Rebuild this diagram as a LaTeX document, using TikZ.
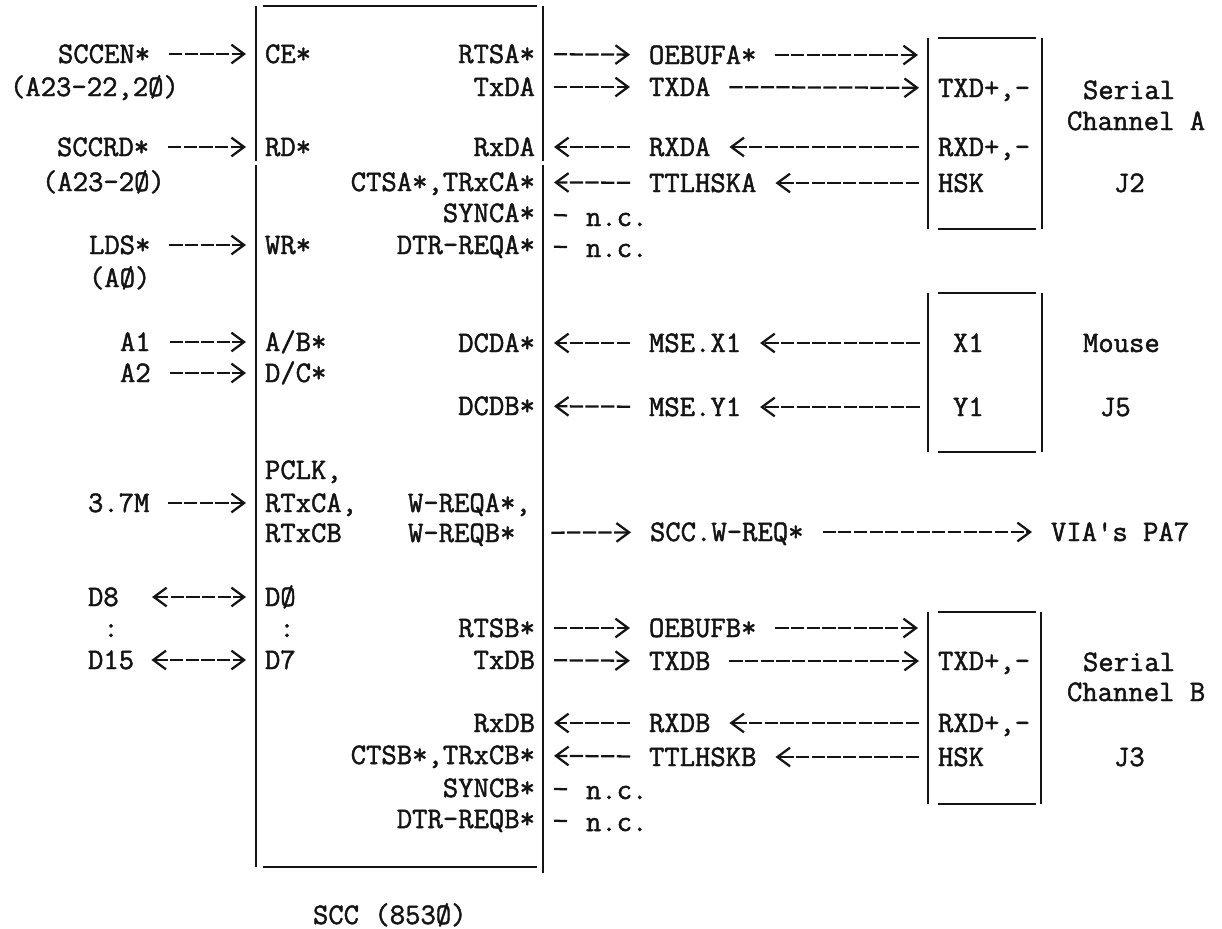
\documentclass[tikz,border=0pt]{standalone}
\usepackage{fontspec}
\usetikzlibrary{arrows.meta}
\newfontfamily\tw{Latin Modern Mono}[FakeBold=1.6]
\definecolor{ink}{HTML}{141414}
\tikzset{
  lab/.style={inner sep=0pt,outer sep=0pt,text height=13.5pt,text depth=0pt,text=ink,font=\tw\fontsize{22.36pt}{24pt}\selectfont},
  conn/.style={draw=ink,line width=1.7pt,shorten <=14.25pt,shorten >=14.25pt},
  barb/.tip={Straight Barb[length=9.5pt,width=14pt,line width=1.7pt]},
  typed/.style={conn,dash pattern=on 9.9pt off 1.85pt,-barb},
  both/.style={conn,dash pattern=on 9.9pt off 1.85pt,barb-barb},
  wall/.style={draw=ink,line width=1.8pt}
}
\newcommand\Lb[4]{\node[lab,anchor=west] (#1) at (#2,#3) {#4};}
\newcommand\Rb[4]{\node[lab,anchor=east] (#1) at (#2,#3) {#4};}
\newcommand\Cb[4]{\node[lab,anchor=center] (#1) at (#2,#3) {#4};}
\begin{document}
\begin{tikzpicture}[x=0.75pt,y=-0.75pt]
\useasboundingbox[fill=white] (0,0) rectangle (1222,929);
% main box walls
\draw[wall] (256,6) -- (256,161) (256,165) -- (256,867);
\draw[wall] (543,6) -- (543,161) (543,165) -- (543,873);
\draw[wall] (263,6) -- (537,6);
\draw[wall] (263,867) -- (537,867);
% connector boxes
\draw[wall] (928,38) -- (928,229) (1042,38) -- (1042,229) (938,38) -- (1036,38) (938,229) -- (1036,229);
\draw[wall] (928,293) -- (928,452) (1042,293) -- (1042,452) (938,293) -- (1036,293) (938,452) -- (1036,452);
\draw[wall] (928,612) -- (928,804) (1041,612) -- (1041,804) (938,612) -- (1036,612) (938,804) -- (1036,804);
% left signals
\Lb{sccen}{58}{54}{SCCEN*}
\Lb{aA}{10}{87}{(A23-22,2Ø)}
\Lb{sccrd}{57}{147}{SCCRD*}
\Lb{aB}{42}{182}{(A23-2Ø)}
\Lb{lds}{89}{245}{LDS*}
\Lb{aC}{89}{278}{(AØ)}
\Lb{aone}{120}{342}{A1}
\Lb{atwo}{120}{373}{A2}
\Lb{clk}{88}{503}{3.7M}
\Lb{deight}{88}{597}{D8}
\Cb{dotsl}{111}{628}{:}
\Lb{dfif}{88}{660}{D15}
% chip pins, left
\Lb{ce}{265}{54}{CE*}
\Lb{rd}{265}{147}{RD*}
\Lb{wr}{265}{245}{WR*}
\Lb{ab}{265}{342}{A/B*}
\Lb{dc}{265}{373}{D/C*}
\Lb{pclk}{265}{470}{PCLK,}
\Lb{rtxca}{265}{503}{RTxCA,}
\Lb{rtxcb}{265}{533}{RTxCB}
\Lb{dzero}{265}{597}{DØ}
\Cb{dotsm}{287}{628}{:}
\Lb{dseven}{265}{660}{D7}
% chip pins, right
\Rb{rtsa}{535}{54}{RTSA*}
\Rb{txda}{535}{87}{TxDA}
\Rb{rxda}{535}{147}{RxDA}
\Rb{ctsa}{535}{182}{CTSA*,TRxCA*}
\Rb{synca}{535}{213}{SYNCA*}
\Rb{dtra}{535}{245}{DTR-REQA*}
\Rb{dcda}{535}{343}{DCDA*}
\Rb{dcdb}{535}{406}{DCDB*}
\Lb{wreqa}{408}{503}{W-REQA*,}
\Lb{wreqb}{408}{533}{W-REQB*}
\Rb{rtsb}{535}{628}{RTSB*}
\Rb{txdb}{535}{660}{TxDB}
\Rb{rxdb}{535}{723}{RxDB}
\Rb{ctsb}{535}{755}{CTSB*,TRxCB*}
\Rb{syncb}{535}{788}{SYNCB*}
\Rb{dtrb}{535}{819}{DTR-REQB*}
% middle signals
\Lb{oeba}{649}{55}{OEBUFA*}
\Lb{txdaa}{649}{87}{TXDA}
\Lb{rxdaa}{649}{147}{RXDA}
\Lb{ttla}{649}{183}{TTLHSKA}
\Lb{ncA}{586}{217}{n.c.}
\Lb{ncB}{586}{248}{n.c.}
\Lb{msex}{649}{343}{MSE.X1}
\Lb{msey}{649}{407}{MSE.Y1}
\Lb{sccw}{650}{532}{SCC.W-REQ*}
\Lb{oebb}{649}{628}{OEBUFB*}
\Lb{txdbb}{649}{661}{TXDB}
\Lb{rxdbb}{649}{723}{RXDB}
\Lb{ttlb}{649}{757}{TTLHSKB}
\Lb{ncC}{586}{790}{n.c.}
\Lb{ncD}{586}{822}{n.c.}
% connector pins
\coordinate (pinoa) at (928,55);
\coordinate (pinob) at (928,628);
\Lb{txpa}{938}{88}{TXD+,-}
\Lb{rxpa}{938}{147}{RXD+,-}
\Lb{hska}{938}{183}{HSK}
\Lb{xone}{953}{343}{X1}
\Lb{yone}{953}{407}{Y1}
\Lb{txpb}{938}{661}{TXD+,-}
\Lb{rxpb}{938}{723}{RXD+,-}
\Lb{hskb}{938}{757}{HSK}
% far right
\Lb{sera}{1083}{90}{Serial}
\Lb{cha}{1067}{121}{Channel A}
\Lb{jtwo}{1114}{183}{J2}
\Lb{mouse}{1083}{343}{Mouse}
\Lb{jfive}{1100}{407}{J5}
\Lb{via}{1051}{532}{VIA's PA7}
\Lb{serb}{1083}{662}{Serial}
\Lb{chb}{1067}{692}{Channel B}
\Lb{jthree}{1114}{757}{J3}
\Lb{scc}{313}{915}{SCC (853Ø)}
% connectors, left
\draw[typed] (sccen) -- (ce);
\draw[typed] (sccrd) -- (rd);
\draw[typed] (lds) -- (wr);
\draw[typed] (aone) -- (ab);
\draw[typed] (atwo) -- (dc);
\draw[typed] (clk) -- (rtxca);
\draw[both,shorten <=25pt] (deight) -- (dzero);
\draw[both,shorten <=13pt] (dfif) -- (dseven);
% connectors, block A
\draw[typed] (rtsa) -- (oeba);
\draw[typed,shorten >=7.5pt] (oeba) -- (pinoa);
\draw[typed] (txda) -- (txdaa);
\draw[typed] (txdaa) -- (txpa);
\draw[typed] (rxpa) -- (rxdaa);
\draw[typed] (rxdaa) -- (rxda);
\draw[typed] (hska) -- (ttla);
\draw[typed] (ttla) -- (ctsa);
\draw[conn] (synca) -- (ncA);
\draw[conn] (dtra) -- (ncB);
% connectors, mouse
\draw[typed,shorten <=25pt] (xone) -- (msex);
\draw[typed] (msex) -- (dcda);
\draw[typed,shorten <=25pt] (yone) -- (msey);
\draw[typed] (msey) -- (dcdb);
% connector, W-REQ
\draw[typed,shorten <=27pt] (wreqb) -- (sccw);
\draw[typed] (sccw) -- (via);
% connectors, block B
\draw[typed] (rtsb) -- (oebb);
\draw[typed,shorten >=7.5pt] (oebb) -- (pinob);
\draw[typed] (txdb) -- (txdbb);
\draw[typed] (txdbb) -- (txpb);
\draw[typed] (rxpb) -- (rxdbb);
\draw[typed] (rxdbb) -- (rxdb);
\draw[typed] (hskb) -- (ttlb);
\draw[typed] (ttlb) -- (ctsb);
\draw[conn] (syncb) -- (ncC);
\draw[conn] (dtrb) -- (ncD);
\end{tikzpicture}
\end{document}
